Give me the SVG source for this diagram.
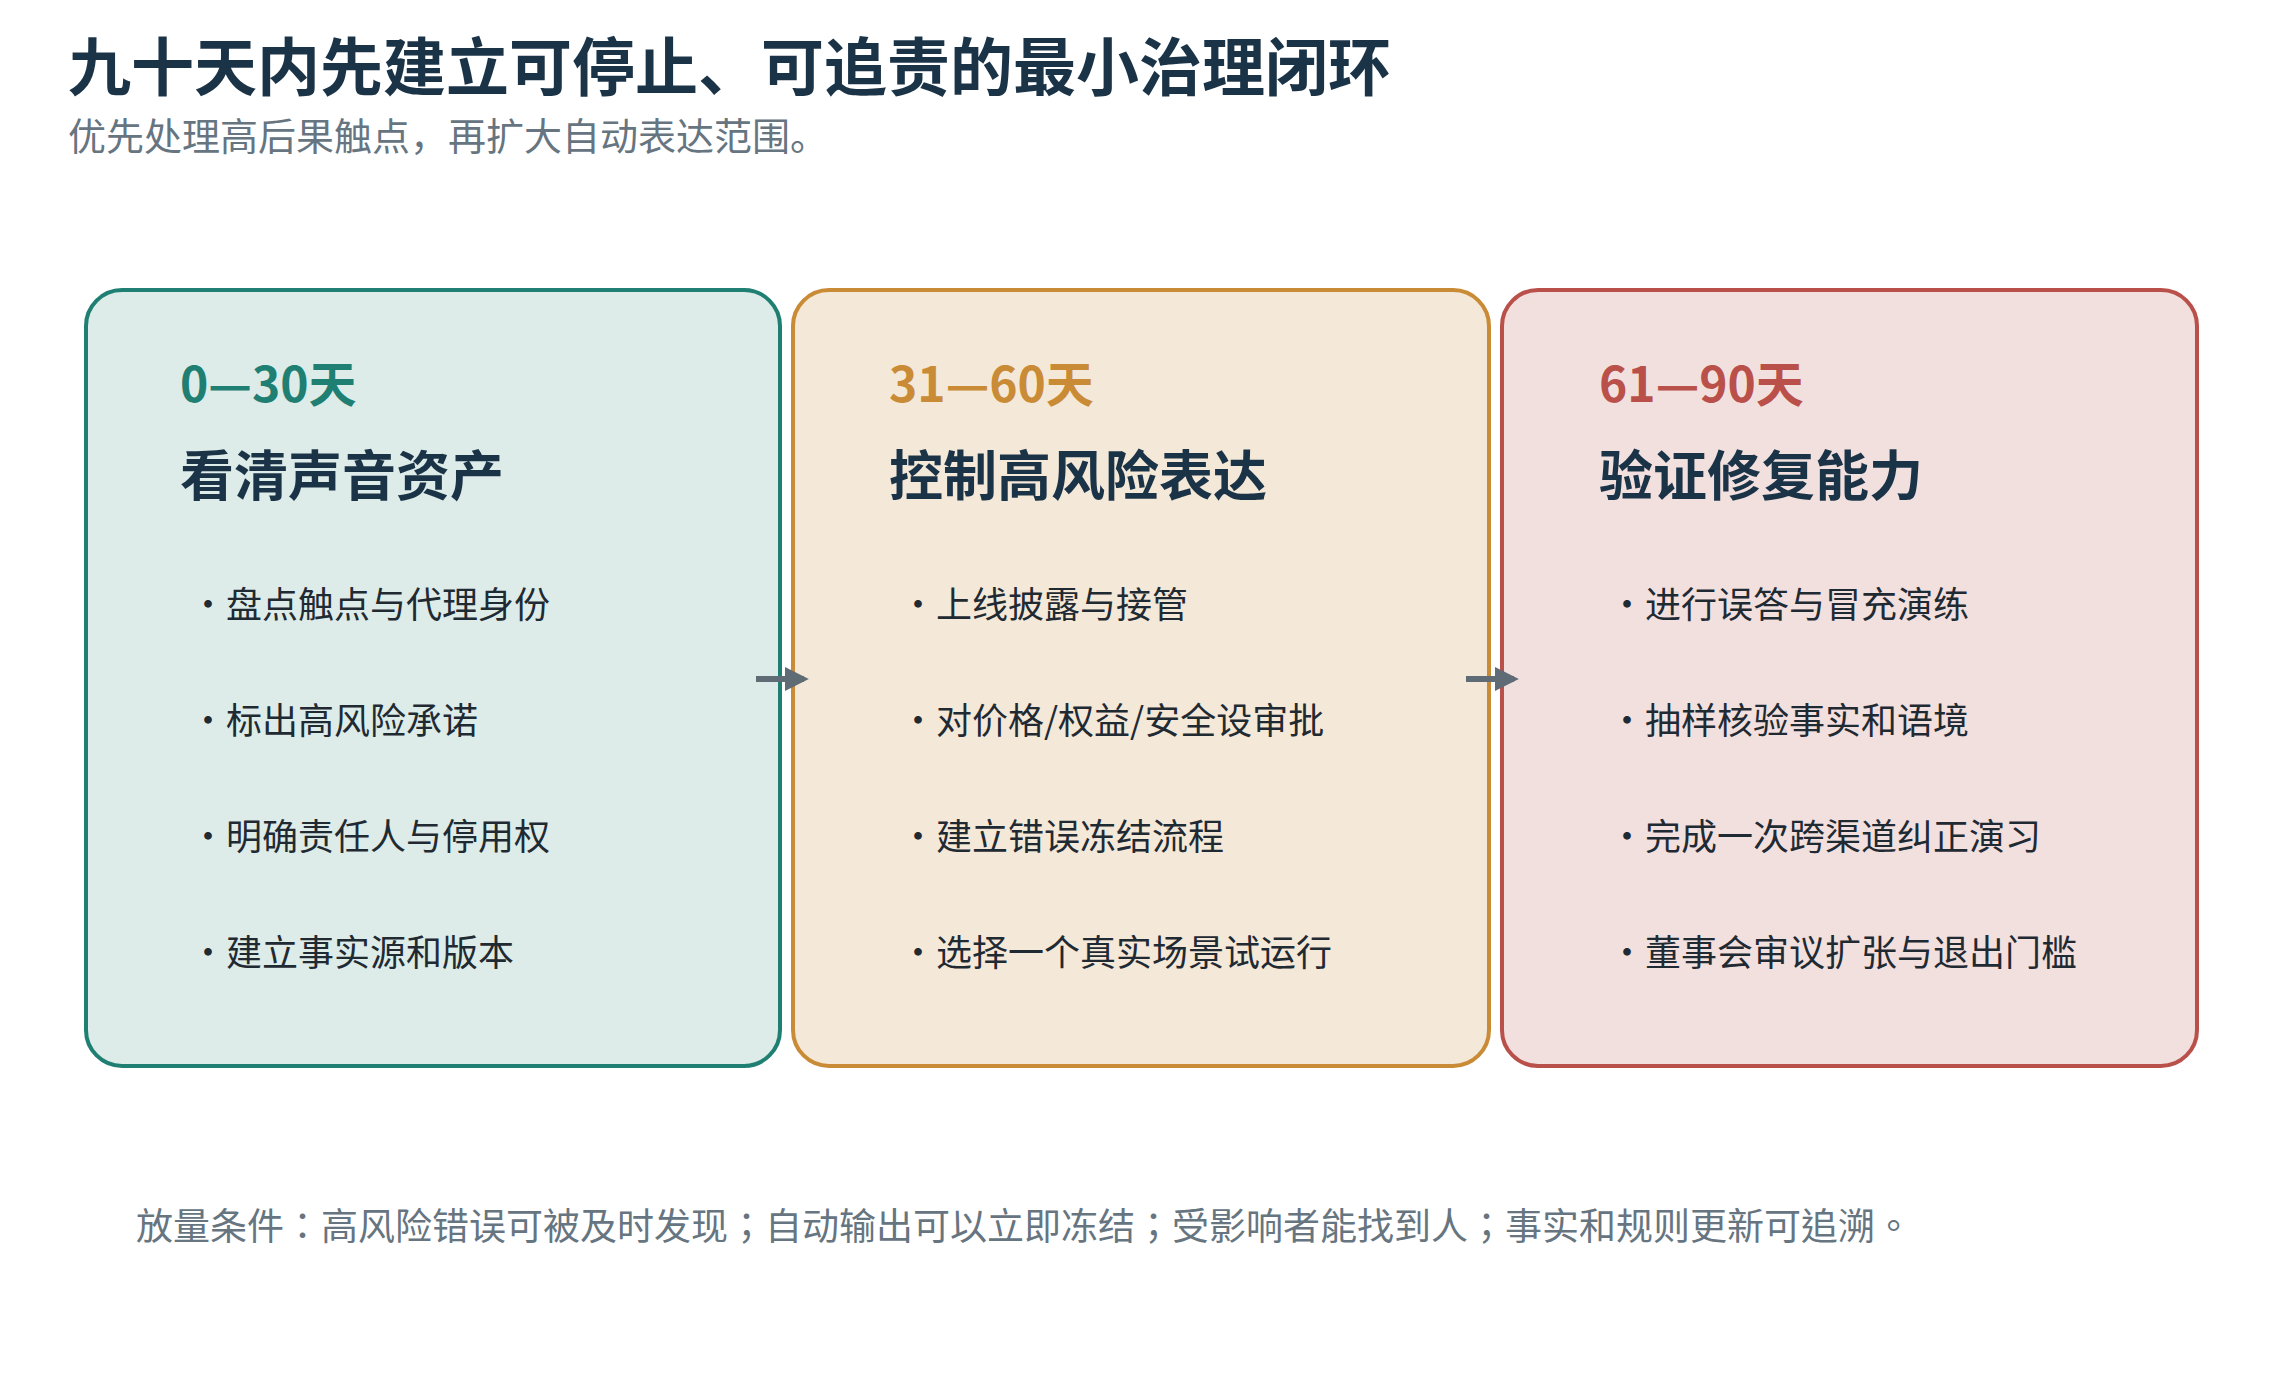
<svg xmlns="http://www.w3.org/2000/svg" width="2294" height="1399" viewBox="0 0 2294 1399">
<defs>
<style>
text{font-family:"Noto Sans CJK SC","Noto Sans",sans-serif}
.t{font-size:63px;font-weight:700;fill:#1b3347}
.sub{font-size:38px;fill:#66757f}
.ph{font-size:48px;font-weight:700}
.h{font-size:54px;font-weight:700;fill:#1b3347}
.b{font-size:36px;fill:#1f2a33}
.f{font-size:37px;fill:#66757f;font-family:"Noto Sans CJK TC","Noto Sans",sans-serif}
.c{stroke:#5f6b75;stroke-width:6;fill:none}
</style>
<marker id="ah" viewBox="0 0 10 10" refX="8" refY="5" markerWidth="4" markerHeight="4" orient="auto"><path d="M0,0L10,5L0,10z" fill="#5f6b75"/></marker>
</defs>
<rect width="2294" height="1399" fill="#fff"/>
<text class="t" x="68" y="90">九十天内先建立可停止、可追责的最小治理闭环</text>
<text class="sub" x="68" y="150">优先处理高后果触点，再扩大自动表达范围。</text>
<g id="p1">
<rect x="86" y="290" width="694" height="776" rx="36" fill="#ddece8" stroke="#1f7f72" stroke-width="4"/>
<text class="ph" x="180" y="402" fill="#1f7f72">0—30天</text>
<text class="h" x="180" y="496">看清声音资产</text>
<text class="b" x="190" y="618">•盘点触点与代理身份</text>
<text class="b" x="190" y="734">•标出高风险承诺</text>
<text class="b" x="190" y="850">•明确责任人与停用权</text>
<text class="b" x="190" y="966">•建立事实源和版本</text>
</g>
<g id="p2">
<rect x="793" y="290" width="696" height="776" rx="36" fill="#f4e8d8" stroke="#c98b35" stroke-width="4"/>
<text class="ph" x="889" y="402" fill="#c98b35">31—60天</text>
<text class="h" x="889" y="496">控制高风险表达</text>
<text class="b" x="900" y="618">•上线披露与接管</text>
<text class="b" x="900" y="734">•对价格/权益/安全设审批</text>
<text class="b" x="900" y="850">•建立错误冻结流程</text>
<text class="b" x="900" y="966">•选择一个真实场景试运行</text>
</g>
<g id="p3">
<rect x="1502" y="290" width="695" height="776" rx="36" fill="#f2e0df" stroke="#b9504a" stroke-width="4"/>
<text class="ph" x="1599" y="402" fill="#b9504a">61—90天</text>
<text class="h" x="1599" y="496">验证修复能力</text>
<text class="b" x="1609" y="618">•进行误答与冒充演练</text>
<text class="b" x="1609" y="734">•抽样核验事实和语境</text>
<text class="b" x="1609" y="850">•完成一次跨渠道纠正演习</text>
<text class="b" x="1609" y="966">•董事会审议扩张与退出门槛</text>
</g>
<g id="connectors">
<line class="c" x1="756" y1="679" x2="804" y2="679" marker-end="url(#ah)"/>
<line class="c" x1="1466" y1="679" x2="1514" y2="679" marker-end="url(#ah)"/>
</g>
<text class="f" x="136" y="1240">放量条件：高风险错误可被及时发现；自动输出可以立即冻结；受影响者能找到人；事实和规则更新可追溯。</text>
</svg>
